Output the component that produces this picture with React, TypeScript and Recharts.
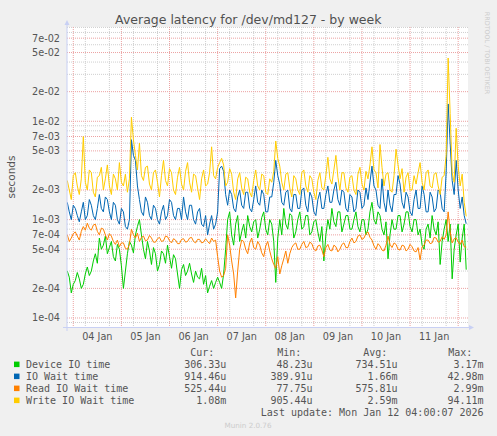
import React from 'react';
import { LineChart, Line, XAxis, YAxis, CartesianGrid } from 'recharts';

// sample times: hours since 04 Jan 00:00, one sample per hour
const hours: number[] = Array.from({ length: 200 }, (_, i) => -3 + i);

const deviceIO = [
  3.0e-4, 2.6e-4, 1.8e-4, 2.2e-4, 2.4e-4, 2.9e-4, 2.5e-4, 2.0e-4, 2.2e-4, 2.8e-4, 3.3e-4, 2.7e-4, 3.0e-4, 3.8e-4, 4.5e-4, 3.6e-4, 6.5e-4, 5.0e-4, 5.5e-4, 6.8e-4,
  4.5e-4, 5.2e-4, 6.0e-4, 4.2e-4, 3.8e-4, 5.6e-4, 5.0e-4, 3.4e-4, 2.0e-4, 3.0e-4, 4.5e-4, 6.0e-4, 5.5e-4, 4.6e-4, 7.0e-4, 8.5e-4, 1.0e-3, 7.0e-4, 5.0e-4, 4.0e-4,
  6.0e-4, 4.8e-4, 3.5e-4, 5.2e-4, 4.5e-4, 3.0e-4, 3.5e-4, 4.8e-4, 4.5e-4, 3.6e-4, 5.5e-4, 4.2e-4, 3.2e-4, 4.4e-4, 4.0e-4, 2.8e-4, 2.0e-4, 3.1e-4, 3.5e-4, 2.7e-4,
  3.0e-4, 3.6e-4, 2.8e-4, 2.3e-4, 3.0e-4, 2.6e-4, 2.5e-4, 3.2e-4, 2.2e-4, 2.7e-4, 1.8e-4, 2.1e-4, 2.4e-4, 2.0e-4, 2.3e-4, 2.6e-4, 2.3e-4, 2.0e-4, 2.8e-4, 5.0e-4,
  1.0e-3, 1.2e-3, 7.0e-4, 5.5e-4, 9.0e-4, 1.1e-3, 6.0e-4, 7.5e-4, 9.0e-4, 6.5e-4, 1.1e-3, 8.5e-4, 7.5e-4, 9.5e-4, 1.0e-3, 6.5e-4, 8.0e-4, 1.05e-3, 1.2e-3, 8.0e-4,
  7.0e-4, 1.0e-3, 9.0e-4, 6.0e-4, 2.3e-4, 6.5e-4, 1.0e-3, 7.0e-4, 1.3e-3, 9.0e-4, 8.0e-4, 1.15e-3, 1.1e-3, 6.5e-4, 7.5e-4, 1.0e-3, 1.2e-3, 8.0e-4, 8.5e-4, 1.1e-3,
  1.1e-3, 7.0e-4, 7.5e-4, 9.5e-4, 1.0e-3, 7.5e-4, 6.0e-4, 8.5e-4, 3.8e-4, 7.0e-4, 1.0e-3, 8.0e-4, 1.3e-3, 9.5e-4, 8.5e-4, 1.2e-3, 1.2e-3, 7.5e-4, 9.0e-4, 1.1e-3,
  1.1e-3, 8.0e-4, 8.0e-4, 1.0e-3, 1.2e-3, 8.5e-4, 7.5e-4, 1.0e-3, 1.0e-3, 7.0e-4, 8.0e-4, 1.2e-3, 1.5e-3, 1.0e-3, 9.0e-4, 1.2e-3, 1.1e-3, 8.0e-4, 7.0e-4, 9.5e-4,
  4.0e-4, 7.0e-4, 1.0e-3, 8.0e-4, 8.0e-4, 1.1e-3, 1.1e-3, 7.5e-4, 9.0e-4, 1.2e-3, 1.2e-3, 8.5e-4, 7.5e-4, 1.0e-3, 1.0e-3, 7.0e-4, 8.0e-4, 5.5e-4, 5.0e-4, 8.0e-4,
  9.0e-4, 6.5e-4, 1.1e-3, 8.0e-4, 7.0e-4, 9.5e-4, 3.5e-4, 6.0e-4, 8.0e-4, 1.0e-3, 6.0e-4, 9.0e-4, 2.5e-4, 5.0e-4, 7.0e-4, 9.0e-4, 3.7e-4, 6.5e-4, 9.0e-4, 3.1e-4,
];

const ioWait = [
  1.5e-3, 1.2e-3, 1.0e-3, 1.4e-3, 1.3e-3, 1.1e-3, 9.5e-4, 1.2e-3, 1.5e-3, 1.0e-3, 1.1e-3, 1.6e-3, 1.4e-3, 1.1e-3, 1.0e-3, 1.3e-3, 1.8e-3, 1.3e-3, 1.2e-3, 1.7e-3,
  1.6e-3, 1.2e-3, 1.0e-3, 1.5e-3, 1.4e-3, 1.0e-3, 9.0e-4, 1.3e-3, 1.2e-3, 8.5e-4, 8.0e-4, 1.0e-3, 6.5e-3, 4.5e-3, 4.0e-3, 2.2e-3, 1.6e-3, 1.2e-3, 1.1e-3, 1.7e-3,
  1.5e-3, 1.1e-3, 1.0e-3, 1.4e-3, 1.3e-3, 1.0e-3, 9.0e-4, 1.2e-3, 1.4e-3, 1.0e-3, 1.1e-3, 1.6e-3, 1.5e-3, 1.1e-3, 1.0e-3, 1.3e-3, 1.3e-3, 1.0e-3, 1.7e-3, 1.2e-3,
  1.0e-3, 1.4e-3, 1.4e-3, 1.0e-3, 9.0e-4, 1.2e-3, 1.3e-3, 9.0e-4, 8.5e-4, 1.1e-3, 7.0e-4, 9.0e-4, 1.1e-3, 8.0e-4, 9.0e-4, 1.2e-3, 3.3e-3, 3.5e-3, 3.1e-3, 1.8e-3,
  1.4e-3, 2.0e-3, 1.8e-3, 1.3e-3, 1.2e-3, 1.7e-3, 2.0e-3, 1.4e-3, 1.3e-3, 1.9e-3, 1.9e-3, 1.3e-3, 1.2e-3, 1.6e-3, 2.2e-3, 1.5e-3, 1.4e-3, 2.0e-3, 1.8e-3, 1.2e-3,
  1.2e-3, 1.7e-3, 1.7e-3, 2.4e-3, 4.0e-3, 2.8e-3, 2.3e-3, 1.5e-3, 1.4e-3, 1.9e-3, 2.0e-3, 1.3e-3, 1.2e-3, 1.8e-3, 1.8e-3, 1.3e-3, 1.3e-3, 2.0e-3, 2.1e-3, 1.4e-3,
  1.2e-3, 1.9e-3, 1.7e-3, 1.2e-3, 1.1e-3, 1.6e-3, 1.9e-3, 1.3e-3, 1.3e-3, 1.8e-3, 2.2e-3, 1.5e-3, 1.5e-3, 2.0e-3, 2.4e-3, 1.6e-3, 1.4e-3, 2.0e-3, 1.9e-3, 1.3e-3,
  1.2e-3, 1.8e-3, 1.7e-3, 1.2e-3, 1.3e-3, 2.0e-3, 1.9e-3, 1.3e-3, 1.4e-3, 2.1e-3, 1.6e-3, 2.4e-3, 3.5e-3, 2.2e-3, 2.0e-3, 1.4e-3, 1.3e-3, 2.6e-3, 1.5e-3, 1.2e-3,
  2.0e-3, 1.4e-3, 1.2e-3, 1.8e-3, 1.8e-3, 2.8e-3, 2.3e-3, 1.5e-3, 1.3e-3, 1.9e-3, 1.7e-3, 1.2e-3, 1.1e-3, 1.6e-3, 2.0e-3, 1.3e-3, 1.3e-3, 2.2e-3, 1.8e-3, 1.2e-3,
  1.2e-3, 1.9e-3, 1.7e-3, 1.2e-3, 1.3e-3, 2.0e-3, 1.9e-3, 1.3e-3, 1.2e-3, 3.0e-3, 1.5e-2, 6.0e-3, 2.5e-3, 1.8e-3, 4.0e-3, 2.0e-3, 1.3e-3, 1.7e-3, 1.1e-3, 9.1e-4,
];

const readWait = [
  7.0e-4, 6.0e-4, 6.5e-4, 7.2e-4, 7.5e-4, 6.8e-4, 6.2e-4, 7.6e-4, 8.5e-4, 7.8e-4, 9.2e-4, 8.2e-4, 7.8e-4, 8.8e-4, 9.0e-4, 7.6e-4, 7.0e-4, 8.2e-4, 8.0e-4, 7.0e-4,
  6.2e-4, 7.2e-4, 6.8e-4, 6.0e-4, 5.6e-4, 6.2e-4, 5.3e-4, 5.8e-4, 5.8e-4, 5.1e-4, 5.0e-4, 5.6e-4, 8.0e-4, 7.0e-4, 6.5e-4, 7.3e-4, 6.0e-4, 6.6e-4, 6.8e-4, 6.1e-4,
  6.2e-4, 6.9e-4, 6.5e-4, 5.9e-4, 5.9e-4, 6.4e-4, 6.6e-4, 6.0e-4, 6.1e-4, 6.8e-4, 6.7e-4, 6.1e-4, 5.8e-4, 6.4e-4, 6.2e-4, 5.7e-4, 5.7e-4, 6.3e-4, 6.4e-4, 5.9e-4,
  6.0e-4, 6.5e-4, 6.6e-4, 6.0e-4, 5.8e-4, 6.3e-4, 6.3e-4, 5.8e-4, 5.9e-4, 6.4e-4, 6.0e-4, 5.7e-4, 6.5e-4, 6.0e-4, 6.2e-4, 4.2e-4, 3.0e-4, 2.6e-4, 2.7e-4, 3.2e-4,
  7.0e-4, 5.5e-4, 3.8e-4, 2.8e-4, 1.6e-4, 3.0e-4, 5.0e-4, 6.2e-4, 6.0e-4, 5.0e-4, 4.5e-4, 5.8e-4, 6.5e-4, 5.2e-4, 5.0e-4, 6.0e-4, 5.5e-4, 4.6e-4, 4.2e-4, 5.4e-4,
  6.0e-4, 4.8e-4, 4.0e-4, 3.5e-4, 3.2e-4, 4.2e-4, 2.8e-4, 3.4e-4, 4.0e-4, 4.8e-4, 3.6e-4, 4.5e-4, 5.2e-4, 5.6e-4, 5.8e-4, 5.0e-4, 5.0e-4, 5.6e-4, 6.0e-4, 5.2e-4,
  5.3e-4, 5.9e-4, 5.7e-4, 5.0e-4, 4.8e-4, 5.4e-4, 5.5e-4, 4.9e-4, 4.2e-4, 5.2e-4, 5.6e-4, 4.9e-4, 4.8e-4, 5.5e-4, 5.3e-4, 4.7e-4, 5.0e-4, 5.6e-4, 5.8e-4, 5.2e-4,
  5.2e-4, 6.0e-4, 6.5e-4, 5.8e-4, 6.0e-4, 6.8e-4, 7.0e-4, 6.3e-4, 6.5e-4, 7.2e-4, 7.5e-4, 6.6e-4, 6.2e-4, 5.4e-4, 5.0e-4, 5.7e-4, 5.4e-4, 4.9e-4, 4.8e-4, 5.5e-4,
  6.8e-4, 5.6e-4, 5.2e-4, 5.8e-4, 5.6e-4, 5.0e-4, 4.9e-4, 5.5e-4, 5.4e-4, 4.8e-4, 5.0e-4, 5.6e-4, 5.3e-4, 4.8e-4, 4.7e-4, 5.2e-4, 3.9e-4, 5.3e-4, 5.5e-4, 6.2e-4,
  6.2e-4, 5.7e-4, 5.8e-4, 6.6e-4, 6.5e-4, 5.9e-4, 6.0e-4, 6.7e-4, 6.3e-4, 7.0e-4, 1.2e-3, 7.5e-4, 5.8e-4, 6.4e-4, 6.5e-4, 5.9e-4, 5.6e-4, 6.2e-4, 5.3e-4, 5.25e-4,
];

const writeWait = [
  2.5e-3, 2.0e-3, 1.6e-3, 2.8e-3, 3.0e-3, 2.2e-3, 1.8e-3, 2.6e-3, 7.0e-3, 2.4e-3, 2.0e-3, 3.2e-3, 3.0e-3, 1.9e-3, 1.7e-3, 2.7e-3, 2.8e-3, 3.4e-3, 2.0e-3, 2.6e-3,
  3.6e-3, 2.2e-3, 1.8e-3, 2.9e-3, 2.6e-3, 2.0e-3, 3.8e-3, 2.4e-3, 2.2e-3, 2.9e-3, 1.9e-3, 2.6e-3, 1.1e-2, 6.5e-3, 4.5e-3, 3.2e-3, 6.0e-3, 2.8e-3, 2.5e-3, 3.4e-3,
  3.5e-3, 2.3e-3, 2.0e-3, 3.0e-3, 3.2e-3, 2.4e-3, 1.7e-3, 2.8e-3, 4.0e-3, 2.5e-3, 2.2e-3, 3.3e-3, 3.0e-3, 2.0e-3, 1.8e-3, 2.7e-3, 3.4e-3, 2.3e-3, 2.0e-3, 3.1e-3,
  3.8e-3, 2.4e-3, 1.9e-3, 2.9e-3, 2.8e-3, 2.1e-3, 1.6e-3, 2.6e-3, 3.2e-3, 2.2e-3, 2.3e-3, 3.0e-3, 5.5e-3, 2.8e-3, 2.6e-3, 3.4e-3, 3.8e-3, 4.2e-3, 3.6e-3, 2.2e-3,
  2.4e-3, 3.3e-3, 2.9e-3, 1.9e-3, 1.6e-3, 2.6e-3, 3.0e-3, 2.1e-3, 1.8e-3, 2.7e-3, 2.6e-3, 1.9e-3, 1.7e-3, 2.5e-3, 3.2e-3, 2.2e-3, 2.0e-3, 2.9e-3, 2.8e-3, 1.9e-3,
  1.8e-3, 2.6e-3, 2.4e-3, 3.1e-3, 6.3e-3, 4.2e-3, 3.5e-3, 2.4e-3, 2.0e-3, 2.9e-3, 3.0e-3, 2.1e-3, 1.7e-3, 2.8e-3, 2.6e-3, 2.0e-3, 1.8e-3, 3.0e-3, 3.2e-3, 2.2e-3,
  1.9e-3, 2.8e-3, 2.6e-3, 1.9e-3, 1.6e-3, 2.5e-3, 3.0e-3, 2.1e-3, 2.0e-3, 2.8e-3, 4.3e-3, 2.6e-3, 2.3e-3, 3.2e-3, 4.5e-3, 2.7e-3, 2.0e-3, 3.0e-3, 3.0e-3, 2.1e-3,
  1.9e-3, 2.7e-3, 2.8e-3, 2.0e-3, 1.8e-3, 2.9e-3, 3.4e-3, 2.3e-3, 2.0e-3, 3.1e-3, 2.6e-3, 3.6e-3, 5.5e-3, 3.2e-3, 3.0e-3, 2.1e-3, 5.8e-3, 3.4e-3, 2.2e-3, 2.9e-3,
  3.0e-3, 2.0e-3, 1.9e-3, 2.8e-3, 5.2e-3, 3.6e-3, 2.6e-3, 3.3e-3, 1.9e-3, 2.7e-3, 3.0e-3, 2.0e-3, 2.0e-3, 2.8e-3, 2.3e-3, 3.0e-3, 3.8e-3, 2.4e-3, 2.0e-3, 3.0e-3,
  3.2e-3, 2.2e-3, 2.1e-3, 2.9e-3, 3.0e-3, 2.2e-3, 1.8e-3, 2.7e-3, 2.8e-3, 4.5e-3, 4.4e-2, 1.2e-2, 3.0e-3, 2.4e-3, 8.5e-3, 3.5e-3, 2.2e-3, 2.9e-3, 1.5e-3, 1.08e-3,
];

const xTicks = [12, 36, 60, 84, 108, 132, 156, 180];
const xTickLabels = ['04 Jan', '05 Jan', '06 Jan', '07 Jan', '08 Jan', '09 Jan', '10 Jan', '11 Jan'];
const yTicks = [1e-4, 2e-4, 5e-4, 7e-4, 1e-3, 2e-3, 5e-3, 7e-3, 1e-2, 2e-2, 5e-2, 7e-2];
const yMinor = [8e-5, 9e-5, 3e-4, 4e-4, 6e-4, 8e-4, 9e-4, 3e-3, 4e-3, 6e-3, 8e-3, 9e-3, 3e-2, 4e-2, 6e-2, 8e-2, 9e-2];
const xMajor = [0, 24, 48, 72, 96, 120, 144, 168, 192];
const xMinor = [6, 12, 18, 30, 36, 42, 54, 60, 66, 78, 84, 90, 102, 108, 114, 126, 132, 138, 150, 156, 162, 174, 180, 186];

const seriesNames = ['Device IO time', 'IO Wait time', 'Read IO Wait time', 'Write IO Wait time'];
const seriesColors = ['#00CC00', '#0066B3', '#FF8000', '#FFCC00'];
const curValues = ['306.33u', '914.46u', '525.44u', '1.08m'];
const minValues = ['48.23u', '389.91u', '77.75u', '905.44u'];
const avgValues = ['734.51u', '1.66m', '575.81u', '2.59m'];
const maxValues = ['3.17m', '42.98m', '2.99m', '94.11m'];

const data = hours.map((h, i) => ({
  h,
  device: deviceIO[i],
  iowait: ioWait[i],
  read: readWait[i],
  write: writeWait[i],
}));

const fmtY = (v: number) => {
  const [m, e] = v.toExponential(0).split('e');
  const n = parseInt(e, 10);
  const sign = n < 0 ? '-' : '+';
  const abs = Math.abs(n);
  return `${m}e${sign}${abs < 10 ? '0' + abs : abs}`;
};
const fmtX = (v: number) => {
  const idx = xTicks.indexOf(v);
  return idx >= 0 ? xTickLabels[idx] : '';
};

const SANS = '"DejaVu Sans", sans-serif';
const MONO = '"DejaVu Sans Mono", monospace';
const TXT = '#555555';
const AXIS = '#c8d0f4';

export default function App() {
  const rowY = [364.3, 376.3, 388.3, 400.3];
  const keys = ['device', 'iowait', 'read', 'write'];
  return (
    <div style={{ position: 'fixed', left: 0, top: 0, width: 497, height: 436, background: '#f0f0f0', overflow: 'hidden' }}>
      <LineChart width={497} height={436} data={data} margin={{ top: 27, right: 29, bottom: 88, left: 7 }}>
        <CartesianGrid
          fill="#ffffff"
          stroke="#cfcfcf"
          strokeDasharray="1 1"
          horizontalValues={yMinor}
          verticalValues={xMinor}
        />
        <CartesianGrid
          stroke="#eca2a2"
          strokeDasharray="1 1"
          horizontalValues={yTicks}
          verticalValues={xMajor}
        />
        <XAxis
          dataKey="h"
          type="number"
          domain={[-3.14, 196.9]}
          allowDataOverflow
          ticks={xTicks}
          tickFormatter={fmtX}
          axisLine={false}
          tickLine={false}
          tickSize={0}
          tickMargin={5}
          height={20}
          tick={{ fill: TXT, fontSize: 9.7, fontFamily: SANS }}
        />
        <YAxis
          type="number"
          scale="log"
          domain={[7.91e-5, 9.09e-2]}
          allowDataOverflow
          ticks={yTicks}
          tickFormatter={fmtY}
          axisLine={false}
          tickLine={false}
          tickSize={0}
          tickMargin={7}
          width={60}
          interval={0}
          tick={{ fill: TXT, fontSize: 9.7, fontFamily: SANS }}
        />
        {keys.map((k, i) => (
          <Line
            key={k}
            dataKey={k}
            type="linear"
            stroke={seriesColors[i]}
            strokeWidth={1}
            dot={false}
            activeDot={false}
            isAnimationActive={false}
          />
        ))}
      </LineChart>
      <svg width={497} height={436} style={{ position: 'absolute', left: 0, top: 0, pointerEvents: 'none' }}>
        <line x1={67} y1={24} x2={67} y2={331} stroke={AXIS} strokeWidth={1} />
        <polygon points="64.5,25 69.5,25 67,20" fill={AXIS} />
        <line x1={63} y1={327.5} x2={470} y2={327.5} stroke={AXIS} strokeWidth={1} />
        <polygon points="469,325 469,330 474,327.5" fill={AXIS} />
        <text x={248.3} y={19.3} textAnchor="middle" dominantBaseline="central" fontFamily={SANS} fontSize={12.5} fill="#505050">
          Average latency for /dev/md127 - by week
        </text>
        <text
          x={11}
          y={177}
          textAnchor="middle"
          dominantBaseline="central"
          fontFamily={SANS}
          fontSize={10.5}
          fill={TXT}
          transform="rotate(-90 11 177)"
        >
          seconds
        </text>
        <text
          x={487}
          y={53}
          textAnchor="middle"
          dominantBaseline="central"
          fontFamily={SANS}
          fontSize={6.4}
          fill="#cccccc"
          transform="rotate(90 487 53)"
        >
          RRDTOOL / TOBI OETIKER
        </text>
        <g fontFamily={MONO} fontSize={10} fill={TXT}>
          <text x={214.3} y={352.7} textAnchor="end" dominantBaseline="central">Cur:</text>
          <text x={301.3} y={352.7} textAnchor="end" dominantBaseline="central">Min:</text>
          <text x={387.3} y={352.7} textAnchor="end" dominantBaseline="central">Avg:</text>
          <text x={472.3} y={352.7} textAnchor="end" dominantBaseline="central">Max:</text>
          {seriesNames.map((n, i) => (
            <g key={n}>
              <rect x={14} y={rowY[i] - 2.7} width={5.5} height={5.5} fill={seriesColors[i]} />
              <text x={26} y={rowY[i]} dominantBaseline="central">{n}</text>
              <text x={226.3} y={rowY[i]} textAnchor="end" dominantBaseline="central">{curValues[i]}</text>
              <text x={312.6} y={rowY[i]} textAnchor="end" dominantBaseline="central">{minValues[i]}</text>
              <text x={397.6} y={rowY[i]} textAnchor="end" dominantBaseline="central">{avgValues[i]}</text>
              <text x={483.6} y={rowY[i]} textAnchor="end" dominantBaseline="central">{maxValues[i]}</text>
            </g>
          ))}
          <text x={483.6} y={412} textAnchor="end" dominantBaseline="central">Last update: Mon Jan 12 04:00:07 2026</text>
        </g>
        <text x={248} y={425.7} textAnchor="middle" dominantBaseline="central" fontFamily={SANS} fontSize={7.2} fill="#cccccc">
          Munin 2.0.76
        </text>
      </svg>
    </div>
  );
}
